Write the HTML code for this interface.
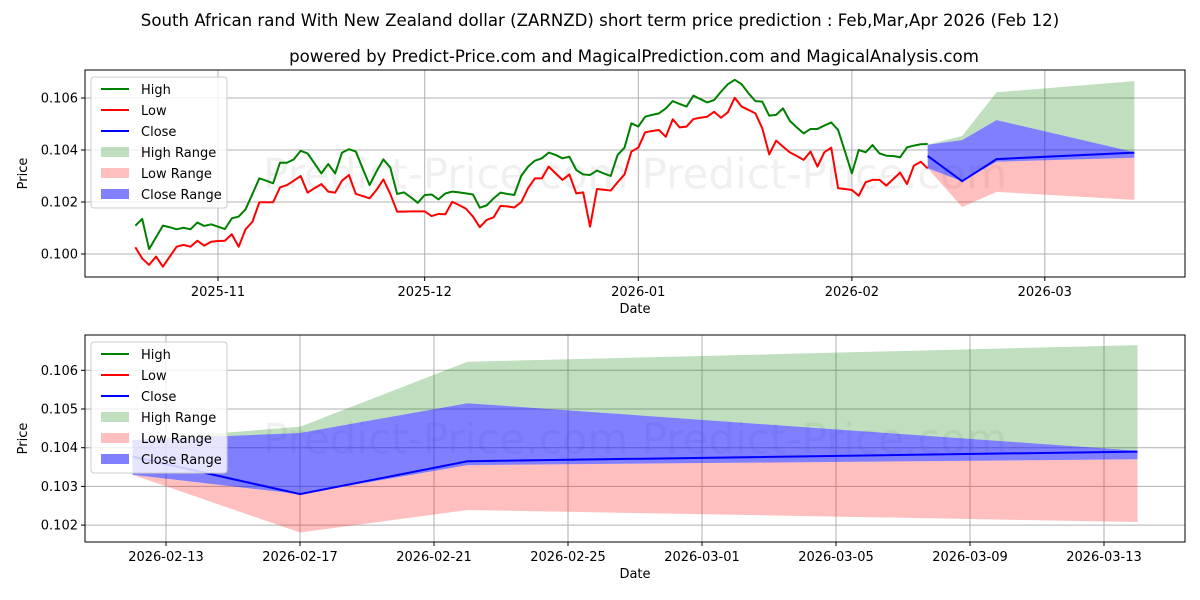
<!DOCTYPE html>
<html><head><meta charset="utf-8">
<style>
html,body{margin:0;padding:0;background:#fff;}
svg{display:block;font-family:"DejaVu Sans","Liberation Sans",sans-serif;}
</style></head>
<body>
<svg id="chart" width="1200" height="600" viewBox="0 0 1200 600" xmlns="http://www.w3.org/2000/svg">
<text x="600" y="26" text-anchor="middle" font-size="16.6">South African rand With New Zealand dollar (ZARNZD) short term price prediction : Feb,Mar,Apr 2026 (Feb 12)</text>
<text x="634" y="62" text-anchor="middle" font-size="16.6">powered by Predict-Price.com and MagicalPrediction.com and MagicalAnalysis.com</text>
<g id="topPanel"></g>
<g id="botPanel"></g>
</svg>
<script>
// historical daily data starting day -12 (2025-10-20), day 0 = 2025-11-01
const histStartDay = -12;
const highVals = [0.10109,0.10135,0.10019,0.10064,0.10109,0.10103,0.10095,0.10101,0.10095,0.10121,0.10108,0.10114,0.10105,0.10096,0.10137,0.10144,0.10172,0.10231,0.10291,0.10282,0.10272,0.10351,0.10351,0.10364,0.10397,0.10387,0.10349,0.10310,0.10346,0.10310,
0.10390,0.10403,0.10394,0.10329,0.10265,0.10317,0.10364,0.10333,0.10231,0.10237,0.10218,0.10197,0.10227,0.10229,0.10210,0.10233,0.10240,0.10237,0.10233,0.10229,0.10178,0.10187,0.10214,0.10236,0.10231,0.10227,0.10300,0.10336,0.10359,0.10368,
0.10390,0.10381,0.10368,0.10374,0.10323,0.10306,0.10304,0.10321,0.10310,0.10300,0.10381,0.10409,0.10503,0.10490,0.10528,0.10535,0.10541,0.10560,0.10588,0.10577,0.10567,0.10609,0.10596,0.10583,0.10592,0.10624,0.10653,0.10670,0.10653,
0.10618,0.10588,0.10586,0.10532,0.10535,0.10560,0.10512,0.10487,0.10464,0.10481,0.10481,0.10494,0.10506,0.10477,0.10394,0.10310,0.10400,0.10391,0.10419,0.10387,0.10378,0.10377,0.10372,0.10410,0.10417,0.10422,0.10423];
const lowVals = [0.10026,0.09983,0.09958,0.09990,0.09951,0.09990,0.10028,0.10035,0.10028,0.10051,0.10032,0.10047,0.10050,0.10051,0.10076,0.10028,0.10095,0.10124,0.10199,0.10199,0.10199,0.10256,0.10265,0.10282,0.10300,0.10236,0.10253,0.10269,0.10240,0.10236,
0.10282,0.10304,0.10231,0.10223,0.10214,0.10246,0.10287,0.10231,0.10163,0.10163,0.10164,0.10164,0.10164,0.10146,0.10154,0.10153,0.10201,0.10188,0.10174,0.10144,0.10103,0.10131,0.10141,0.10185,0.10183,0.10179,0.10199,0.10253,0.10291,0.10291,
0.10336,0.10310,0.10285,0.10306,0.10233,0.10237,0.10105,0.10250,0.10247,0.10244,0.10276,0.10306,0.10394,0.10409,0.10468,0.10473,0.10477,0.10451,0.10518,0.10487,0.10490,0.10519,0.10524,0.10528,0.10547,0.10524,0.10545,0.10601,0.10567,
0.10554,0.10541,0.10483,0.10383,0.10436,0.10413,0.10391,0.10377,0.10362,0.10394,0.10336,0.10391,0.10409,0.10253,0.10250,0.10246,0.10224,0.10276,0.10285,0.10285,0.10263,0.10288,0.10313,0.10269,0.10340,0.10355,0.10329];
// forecast (days since 2025-11-01): Feb12, Feb17, Feb22, Mar14
const fcDays = [103,108,113,133];
const fcClose = [0.10377,0.10280,0.10365,0.10390];
const fcHighUp = [0.10420,0.10454,0.10622,0.10665];
const fcCloseUp = [0.10420,0.10438,0.10515,0.10392];
const fcCloseLo = [0.10330,0.10280,0.10355,0.10370];
const fcLowLo = [0.10330,0.10181,0.10239,0.10208];
const topYTicks = [0.100,0.102,0.104,0.106];
const topXTickDays = [0,30,61,92,120];
const topXTickLabels = ["2025-11","2025-12","2026-01","2026-02","2026-03"];
const botYTicks = [0.102,0.103,0.104,0.105,0.106];
const botXTickDays = [104,108,112,116,120,124,128,132];
const botXTickLabels = ["2026-02-13","2026-02-17","2026-02-21","2026-02-25","2026-03-01","2026-03-05","2026-03-09","2026-03-13"];

const NS="http://www.w3.org/2000/svg";
function mk(parent,tag,attrs,text){const e=document.createElementNS(NS,tag);for(const k in attrs)e.setAttribute(k,attrs[k]);if(text!==undefined)e.textContent=text;parent.appendChild(e);return e;}

function panel(g,id,L,R,T,B,xs,ys,yTicks,xTickDays,xTickLabels,yFmt,showHist){
  const clipId='clip-'+id;
  const defs=mk(g,'defs',{});
  const cp=mk(defs,'clipPath',{id:clipId});
  mk(cp,'rect',{x:L,y:T,width:R-L,height:B-T});
  const wm=mk(g,'text',{x:(L+R)/2,y:(T+B)/2+15,'text-anchor':'middle','font-size':42,fill:'#000','fill-opacity':0.06},'Predict-Price.com    Predict-Price.com');
  
  
  yTicks.forEach(v=>{const y=ys(v);
    const gl=mk(g,'line',{x1:L,x2:R,y1:y,y2:y,stroke:'#b0b0b0','stroke-width':1});
    
    
    mk(g,'line',{x1:L-4,x2:L,y1:y,y2:y,stroke:'#000'});
    const t=mk(g,'text',{x:L-7,y:y+4.5,'text-anchor':'end','font-size':13},yFmt(v));
    
    
  });
  xTickDays.forEach((d,i)=>{const x=xs(d);
    const gl=mk(g,'line',{x1:x,x2:x,y1:T,y2:B,stroke:'#b0b0b0','stroke-width':1});
    
    
    mk(g,'line',{x1:x,x2:x,y1:B,y2:B+4,stroke:'#000'});
    const t=mk(g,'text',{x:x,y:B+19,'text-anchor':'middle','font-size':13},xTickLabels[i]);
    
    
  });
  const c=mk(g,'g',{'clip-path':'url(#'+clipId+')'});
  function band(up,lo,fill,name){
    let p=fcDays.map((d,i)=>xs(d)+','+ys(up[i]));
    for(let i=fcDays.length-1;i>=0;i--)p.push(xs(fcDays[i])+','+ys(lo[i]));
    const e=mk(c,'polygon',{points:p.join(' '),fill:fill});
    
    
  }
  band(fcHighUp,fcCloseUp,'rgba(0,128,0,0.25)','high-range-band');
  band(fcCloseLo,fcLowLo,'rgba(255,0,0,0.25)','low-range-band');
  band(fcCloseUp,fcCloseLo,'rgba(0,0,255,0.5)','close-range-band');
  function line(vals,start,color,name){
    const p=vals.map((v,i)=>xs(start+i)+','+ys(v)).join(' ');
    const e=mk(c,'polyline',{points:p,fill:'none',stroke:color,'stroke-width':2,'stroke-linejoin':'round'});
    
    
  }
  if(showHist){
    line(highVals,histStartDay,'#008000','high-line');
    line(lowVals,histStartDay,'#ff0000','low-line');
  }
  const cl=mk(c,'polyline',{points:fcDays.map((d,i)=>xs(d)+','+ys(fcClose[i])).join(' '),fill:'none',stroke:'#0000ff','stroke-width':2});
  
  
  const fr=mk(g,'rect',{x:L,y:T,width:R-L,height:B-T,fill:'none',stroke:'#000','stroke-width':1});
  
  
  const xl=mk(g,'text',{x:(L+R)/2,y:B+36,'text-anchor':'middle','font-size':13},'Date');
  
  
  const yl=mk(g,'text',{x:0,y:0,'text-anchor':'middle','font-size':13,transform:'translate(27,'+((T+B)/2)+') rotate(-90)'},'Price');
  
  
  const lg=mk(g,'g',{});
  
  
  const lx=L+6,ly=T+7;
  mk(lg,'rect',{x:lx,y:ly,width:136,height:131,rx:3,fill:'#fff','fill-opacity':0.8,stroke:'#ccc'});
  const items=[['High','line','#008000'],['Low','line','#ff0000'],['Close','line','#0000ff'],['High Range','box','rgba(0,128,0,0.25)'],['Low Range','box','rgba(255,0,0,0.25)'],['Close Range','box','rgba(0,0,255,0.5)']];
  items.forEach((it,i)=>{const y=ly+12+i*21;
    if(it[1]==='line')mk(lg,'line',{x1:lx+10,x2:lx+38,y1:y,y2:y,stroke:it[2],'stroke-width':2});
    else mk(lg,'rect',{x:lx+10,y:y-5,width:28,height:10,fill:it[2]});
    const t=mk(lg,'text',{x:lx+50,y:y+5,'font-size':13},it[0]);
    
    
  });
}
const topG=document.getElementById('topPanel');
panel(topG,'top',85,1185,70,277,d=>218+6.89*d,v=>150-(v-0.104)*26000,topYTicks,topXTickDays,topXTickLabels,v=>v.toFixed(3),true);
const botG=document.getElementById('botPanel');
panel(botG,'bot',85,1185,335,542,d=>166+33.5*(d-104),v=>447.7-(v-0.104)*38700,botYTicks,botXTickDays,botXTickLabels,v=>v.toFixed(3),false);
</script>
</body></html>
